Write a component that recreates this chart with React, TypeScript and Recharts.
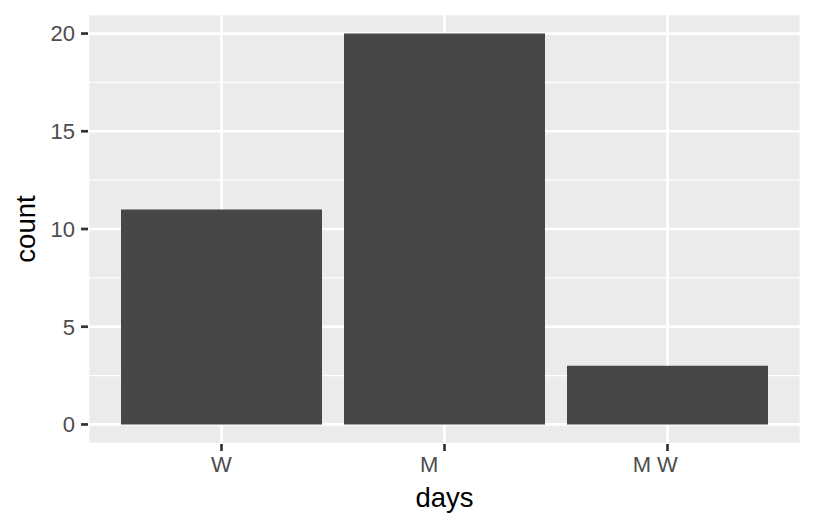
import {
  BarChart,
  Bar,
  XAxis,
  YAxis,
  CartesianGrid,
} from 'recharts';

// raw labels carry trailing blanks, which is why M and M W sit left of their ticks
const days = ['W', 'M     ', 'M W    '];
const counts = [11, 20, 3];
const yTicks = [0, 5, 10, 15, 20];
const minorTicks = [2.5, 7.5, 12.5, 17.5];
const yDomain = [-1, 21];

const FONT = '"Liberation Sans", Arial, Helvetica, sans-serif';

const chartData = days.map((d, i) => ({ days: d, count: counts[i] }));

function DayTick({ x, y, payload }: { x?: number; y?: number; payload?: { value: string } }) {
  return (
    <text
      x={x}
      y={y}
      dy="0.71em"
      textAnchor="middle"
      xmlSpace="preserve"
      style={{ whiteSpace: 'pre' }}
      fontFamily={FONT}
      fontSize={22}
      fill="#4D4D4D"
    >
      {payload?.value}
    </text>
  );
}

export default function App() {
  return (
    <div style={{ position: 'absolute', left: 0, top: 0, background: '#fff' }}>
      <BarChart
        width={816}
        height={528}
        data={chartData}
        margin={{ top: 14, right: 15, bottom: 0, left: 0 }}
        barSize={201}
      >
        <CartesianGrid fill="#EBEBEB" stroke="#FFFFFF" strokeWidth={2.7} />
        {/* minor rows come from a hidden twin axis */}
        <CartesianGrid
          yAxisId="minor"
          vertical={false}
          stroke="#FFFFFF"
          strokeWidth={1.3}
        />
        <XAxis
          dataKey="days"
          height={84}
          padding={{ left: 22, right: 22 }}
          axisLine={false}
          tickSize={7}
          tickMargin={5}
          tickLine={{ stroke: '#333333', strokeWidth: 2.7 }}
          tick={<DayTick />}
          label={{
            content: ({ viewBox }: any) => (
              <text
                x={viewBox.x + viewBox.width / 2}
                y={528 - 21}
                textAnchor="middle"
                fontFamily={FONT}
                fontSize={27.5}
                fill="#000"
              >
                days
              </text>
            ),
          }}
        />
        <YAxis yAxisId="minor" hide domain={yDomain} ticks={minorTicks} allowDataOverflow />
        <YAxis
          width={88}
          domain={yDomain}
          ticks={yTicks}
          allowDataOverflow
          axisLine={false}
          tickSize={7}
          tickMargin={6}
          tickLine={{ stroke: '#333333', strokeWidth: 2.7 }}
          tick={{ fontFamily: FONT, fontSize: 22, fill: '#4D4D4D' }}
          label={{
            content: ({ viewBox }: any) => (
              <text
                x={35}
                y={viewBox.y + viewBox.height / 2}
                transform={`rotate(-90, 35, ${viewBox.y + viewBox.height / 2})`}
                textAnchor="middle"
                fontFamily={FONT}
                fontSize={27.5}
                fill="#000"
              >
                count
              </text>
            ),
          }}
        />
        <Bar dataKey="count" fill="#474747" isAnimationActive={false} />
      </BarChart>
    </div>
  );
}
